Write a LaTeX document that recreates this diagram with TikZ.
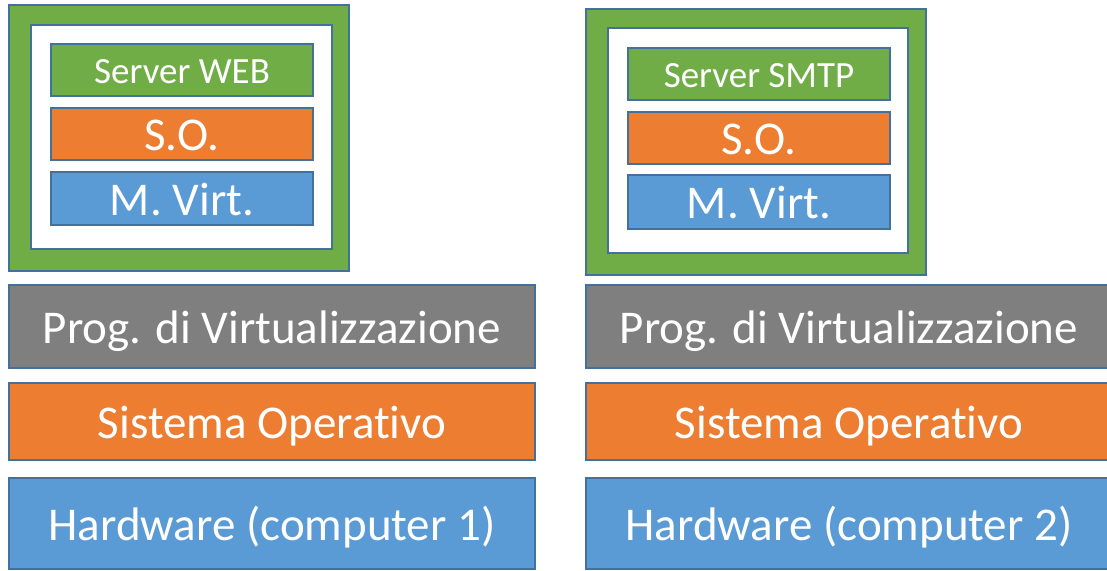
\documentclass[tikz,border=0pt]{standalone}
\usepackage{fontspec}
\setmainfont{Carlito}[Ligatures=NoCommon]
\definecolor{edge}{HTML}{41719C}
\definecolor{vmgreen}{HTML}{70AD47}
\definecolor{osorange}{HTML}{ED7D31}
\definecolor{hwblue}{HTML}{5B9BD5}
\definecolor{hvgray}{HTML}{7F7F7F}
\begin{document}
\begin{tikzpicture}[x=1pt,y=-1pt,
  layer/.style={draw=edge, line width=2pt, text=white, anchor=north west,
    inner sep=0pt, align=center, text depth=0pt},
  big/.style={font=\fontsize{47}{56}\selectfont, text height=33pt},
  small/.style={font=\fontsize{37}{44}\selectfont, text height=26pt},
  wide/.style={minimum width=526pt},
  guest/.style={minimum width=262pt},
]
\useasboundingbox (0,0) rectangle (1107,570);

% --- computer 1 ---
\node[layer, fill=vmgreen, minimum width=340pt, minimum height=266pt] (vm1) at (8,4) {};
\node[layer, fill=white, minimum width=301pt, minimum height=224pt] (vmin1) at (30,24) {};
\node[layer, small, guest, fill=vmgreen, minimum height=52pt] (app1) at (50,43) {Server WEB};
\node[layer, big, guest, fill=osorange, minimum height=52pt] (gos1) at (50,107) {S.O.};
\node[layer, big, guest, fill=hwblue, minimum height=53pt] (mv1) at (50,171) {M. Virt.};
\node[layer, big, wide, fill=hvgray, minimum height=83pt] (hv1) at (8,284) {Prog. di Virtualizzazione};
\node[layer, big, wide, fill=osorange, minimum height=77pt] (os1) at (8,382) {Sistema Operativo};
\node[layer, big, wide, fill=hwblue, minimum height=91pt] (hw1) at (8,477) {Hardware (computer 1)};

% --- computer 2 ---
\node[layer, fill=vmgreen, minimum width=340pt, minimum height=266pt] (vm2) at (585,8) {};
\node[layer, fill=white, minimum width=300pt, minimum height=225pt] (vmin2) at (607,27) {};
\node[layer, small, guest, fill=vmgreen, minimum height=52pt] (app2) at (627,47) {Server SMTP};
\node[layer, big, guest, fill=osorange, minimum height=52pt] (gos2) at (627,111) {S.O.};
\node[layer, big, guest, fill=hwblue, minimum height=54pt] (mv2) at (627,174) {M. Virt.};
\node[layer, big, wide, fill=hvgray, minimum height=83pt] (hv2) at (585,284) {Prog. di Virtualizzazione};
\node[layer, big, wide, fill=osorange, minimum height=77pt] (os2) at (585,382) {Sistema Operativo};
\node[layer, big, wide, fill=hwblue, minimum height=91pt] (hw2) at (585,477) {Hardware (computer 2)};
\end{tikzpicture}
\end{document}
